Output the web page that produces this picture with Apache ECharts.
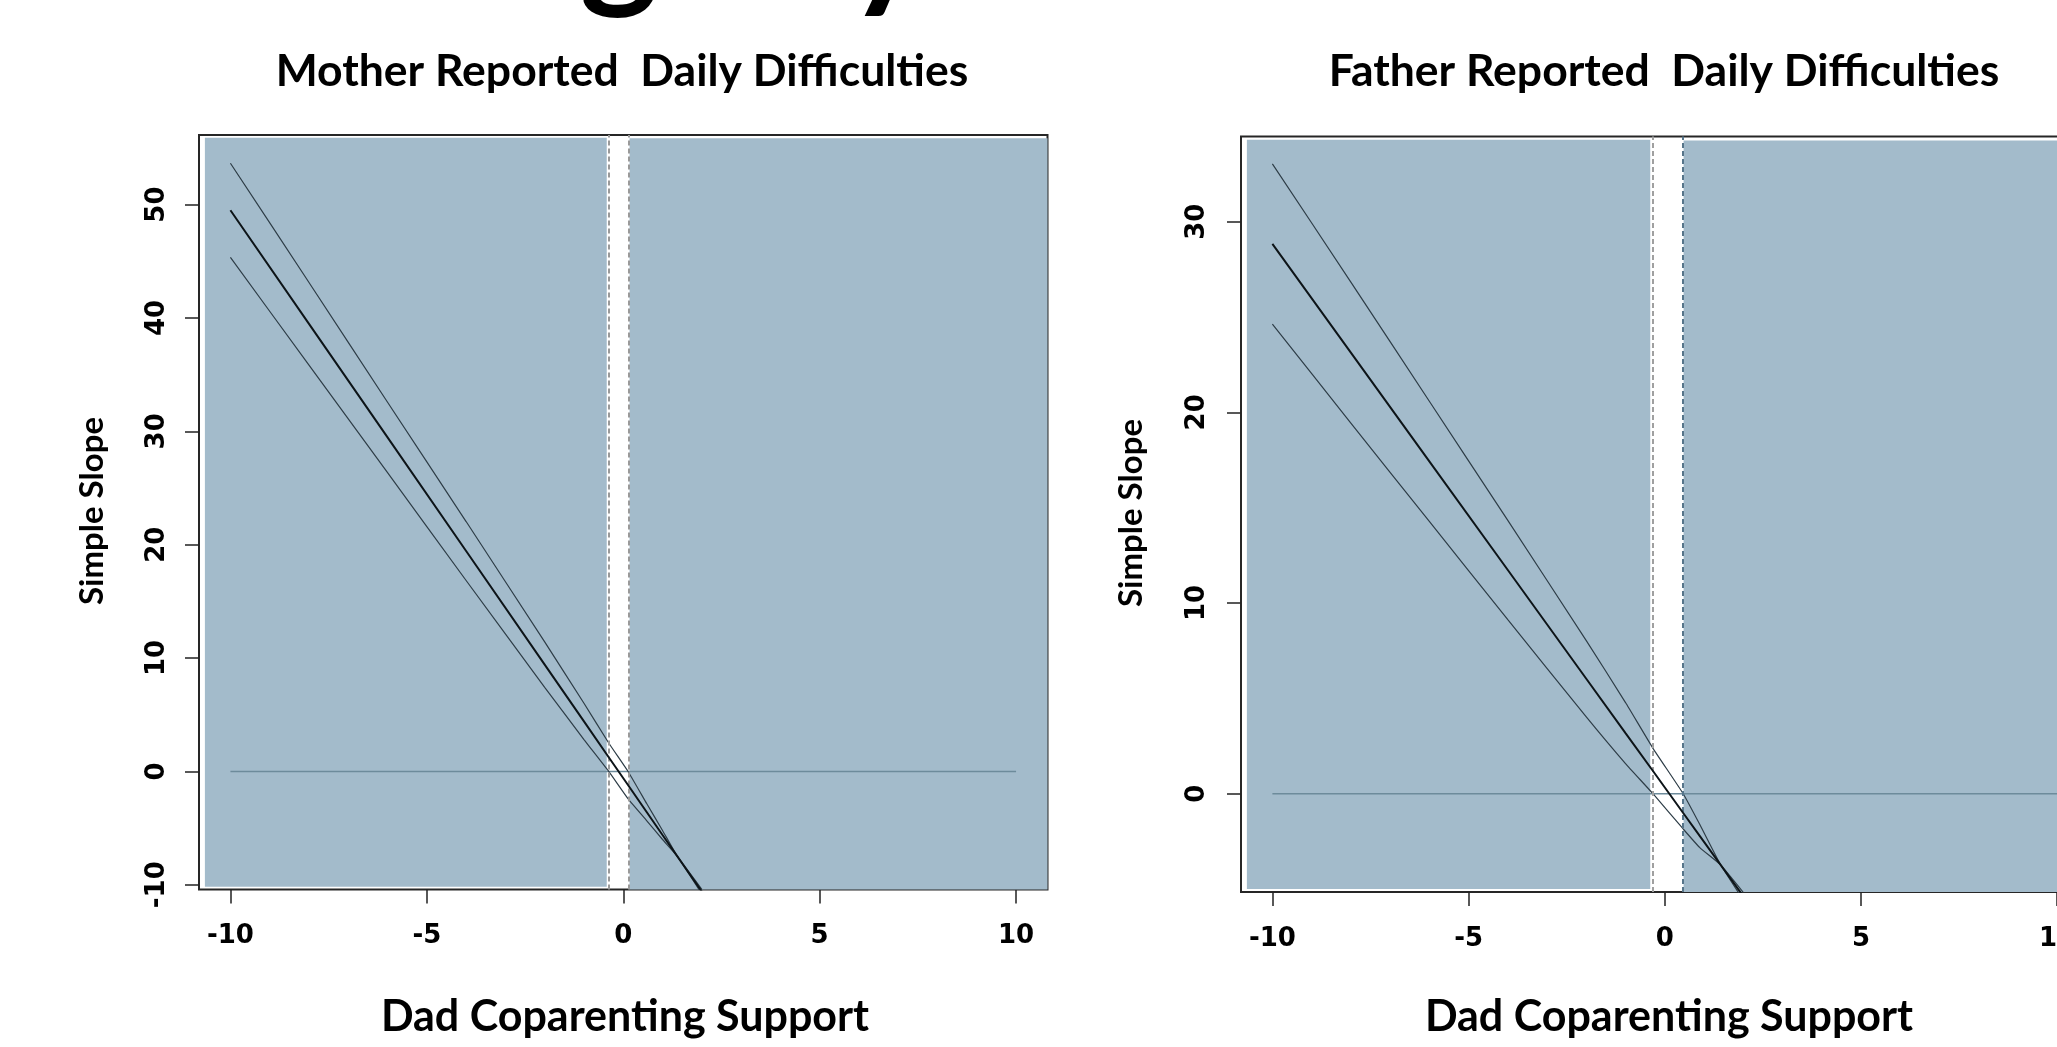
<!DOCTYPE html>
<html><head><meta charset="utf-8">
<script src="https://cdn.jsdelivr.net/npm/echarts@6/dist/echarts.min.js"></script>
<style>html,body{margin:0;padding:0;background:#fff;overflow:hidden}#c{width:2057px;height:1047px}</style>
</head><body><div id="c"></div>
<script>
// ---- data ----
const xTicks = [-10, -5, 0, 5, 10];
const motherYTicks = [-10, 0, 10, 20, 30, 40, 50];
const fatherYTicks = [0, 10, 20, 30];

const motherX     = [-10, -8, -6, -4, -2, -1, -0.37, 0.13, 0.6, 1.0, 1.32, 2.0];
const motherSlope = [49.5, 39.48, 29.46, 19.44, 9.42, 4.41, 1.25, -1.25, -3.61, -5.61, -7.21, -10.6];
const motherUpper = [53.65, 43.13, 32.56, 22.04, 11.42, 6.01, 2.5, -0.05, -2.86, -5.21, -7.16, -10.8];
const motherLower = [45.35, 35.83, 26.36, 16.84, 7.42, 2.81, 0.0, -2.45, -4.36, -6.01, -7.26, -10.4];
const motherJN = [-0.37, 0.13];

const fatherX     = [-10, -8, -6, -4, -2, -1, -0.3, 0.47, 0.9, 1.41, 2.0];
const fatherSlope = [28.83, 23.13, 17.43, 11.73, 6.03, 3.18, 1.19, -1.01, -2.24, -3.69, -5.37];
const fatherUpper = [33.03, 26.83, 20.58, 14.33, 8.03, 4.78, 2.38, 0.0, -1.64, -3.67, -5.57];
const fatherLower = [24.63, 19.43, 14.28, 9.13, 4.03, 1.58, 0.0, -1.85, -2.84, -3.71, -5.17];
const fatherJN = [-0.30, 0.47];

const zeroX = [-10, 10];
const zeroY = [0, 0];

const titles = ['Mother Reported  Daily Difficulties', 'Father Reported  Daily Difficulties'];
const xName = 'Dad Coparenting Support';
const yName = 'Simple Slope';

// ---- build ----
const zip = (xs, ys) => xs.map((x, i) => [x, ys[i]]);
const BLUE = '#a3bbcb';
const labelFont = {fontFamily: 'DejaVu Sans', fontWeight: 'bold', fontSize: 26, color: '#000'};
const titleFont = {fontFamily: 'Lato', fontWeight: 'bold', fill: '#000'};

const panels = [
  {grid: {left: 199, top: 135, width: 848.5, height: 754.5}, y: [-10.42, 56.14], yTicks: motherYTicks,
   X: motherX, S: motherSlope, U: motherUpper, L: motherLower, JN: motherJN,
   blue: [[-10.65, -0.42, -10.18, 55.9], [0.16, 10.8, -10.42, 55.85]],
   jnColors: ['#9a9a9a', '#9a9a9a'], xMargin: 34, yMargin: 29},
  {grid: {left: 1241, top: 136.4, width: 847.5, height: 755.7}, y: [-5.16, 34.47], yTicks: fatherYTicks,
   X: fatherX, S: fatherSlope, U: fatherUpper, L: fatherLower, JN: fatherJN,
   blue: [[-10.65, -0.37, -5.0, 34.3], [0.48, 10.8, -5.16, 34.25]],
   jnColors: ['#a0a0a0', '#56758a'], xMargin: 34, yMargin: 31}
];

const grid = [], xAxis = [], yAxis = [], series = [];
panels.forEach((p, i) => {
  grid.push(Object.assign({show: true, borderColor: '#262626', borderWidth: 2, backgroundColor: '#fff',
    containLabel: false, outerBoundsMode: 'none'}, p.grid));
  xAxis.push({type: 'value', gridIndex: i, min: -10.8, max: 10.8,
    axisLine: {show: false, onZero: false}, splitLine: {show: false},
    axisTick: {show: true, inside: false, length: 14, customValues: xTicks, lineStyle: {color: '#222', width: 1.5}},
    axisLabel: Object.assign({customValues: xTicks, margin: p.xMargin, alignMinLabel: 'center', alignMaxLabel: 'center',
      hideOverlap: false, formatter: v => String(v)}, labelFont)});
  yAxis.push({type: 'value', gridIndex: i, min: p.y[0], max: p.y[1],
    axisLine: {show: false, onZero: false}, splitLine: {show: false},
    axisTick: {show: true, inside: false, length: 14, customValues: p.yTicks, lineStyle: {color: '#222', width: 1.5}},
    axisLabel: Object.assign({customValues: p.yTicks, margin: p.yMargin, rotate: 90, align: 'center', verticalAlign: 'bottom',
      formatter: v => String(v)}, labelFont)});
  // background regions + JN boundaries
  series.push({type: 'line', xAxisIndex: i, yAxisIndex: i, data: [], z: 1, silent: true,
    markArea: {silent: true, itemStyle: {color: BLUE, opacity: 1},
      data: p.blue.map(b => [{coord: [b[0], b[2]]}, {coord: [b[1], b[3]]}])},
    markLine: {silent: true, symbol: ['none', 'none'], label: {show: false},
      data: p.JN.map((v, k) => ({xAxis: v, lineStyle: {color: p.jnColors[k], type: [5, 3], width: 2}}))}
  });
  series.push({type: 'line', xAxisIndex: i, yAxisIndex: i, data: zip(zeroX, zeroY), showSymbol: false, z: 3,
    lineStyle: {color: '#6d8b9b', width: 1.5}, silent: true});
  series.push({type: 'line', xAxisIndex: i, yAxisIndex: i, data: zip(p.X, p.U), showSymbol: false, z: 4, smooth: 0.15,
    lineStyle: {color: '#2e3d47', width: 1.2}, silent: true});
  series.push({type: 'line', xAxisIndex: i, yAxisIndex: i, data: zip(p.X, p.L), showSymbol: false, z: 4, smooth: 0.15,
    lineStyle: {color: '#2e3d47', width: 1.2}, silent: true});
  series.push({type: 'line', xAxisIndex: i, yAxisIndex: i, data: zip(p.X, p.S), showSymbol: false, z: 5,
    lineStyle: {color: '#0d1418', width: 2}, silent: true});
});

const T = (text, x, y, size, rot) => ({type: 'text', x: x, y: y, rotation: rot || 0, z: 10,
  style: Object.assign({text: text, fontSize: size, textAlign: 'center', textVerticalAlign: 'middle'}, titleFont)});

const graphic = [
  T(titles[0], 622, 72, 44.5), T(titles[1], 1664, 72, 44.5),
  T(xName, 625, 1017, 43), T(xName, 1669, 1017, 43),
  T(yName, 92, 511, 33, Math.PI / 2), T(yName, 1131, 513, 33, Math.PI / 2),
  {type: 'text', x: 619, y: 18, z: 10, style: {text: 'g', fontSize: 150, fontFamily: 'Lato', fontWeight: 'bold', fill: '#000', textAlign: 'center', textVerticalAlign: 'bottom'}},
  {type: 'text', x: 887, y: 18, z: 10, style: {text: 'y', fontSize: 150, fontFamily: 'Lato', fontWeight: 'bold', fill: '#000', textAlign: 'center', textVerticalAlign: 'bottom'}}
];

const chart = echarts.init(document.getElementById('c'), null, {renderer: 'canvas', width: 2057, height: 1047});
chart.setOption({animation: false, backgroundColor: '#fff', grid, xAxis, yAxis, series, graphic});
</script>
</body></html>
